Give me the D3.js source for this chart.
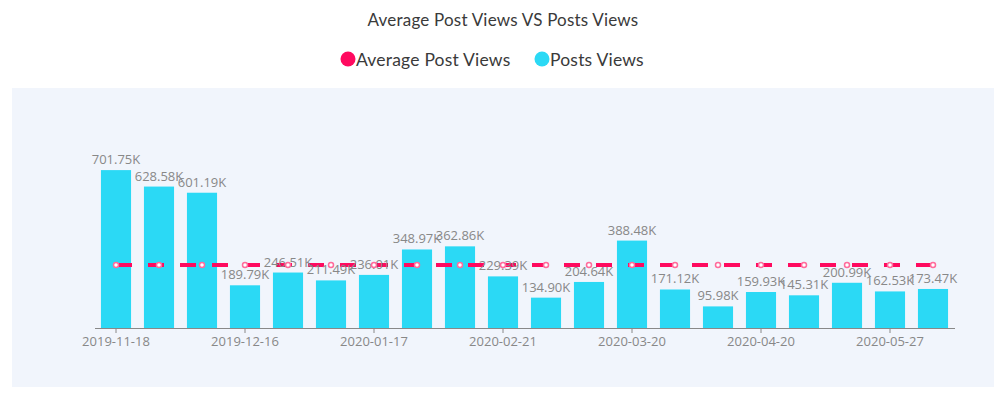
<!DOCTYPE html>
<html>
<head>
<meta charset="utf-8">
<script src="https://cdn.jsdelivr.net/npm/d3@7"></script>
<style>
  body { margin: 0; background: #fff; }
  svg { display: block; }
</style>
</head>
<body>
<svg id="chart" width="1002" height="394"></svg>
<script>
// chart data
const dates = [
  '2019-11-18', '2019-11-27', '2019-12-06', '2019-12-16', '2019-12-26',
  '2020-01-07', '2020-01-17', '2020-01-29', '2020-02-10', '2020-02-21',
  '2020-03-02', '2020-03-11', '2020-03-20', '2020-03-31', '2020-04-09',
  '2020-04-20', '2020-05-02', '2020-05-15', '2020-05-27', '2020-06-08'
];
const postsViews = [
  701.75, 628.58, 601.19, 189.79, 246.51, 211.49, 236.01, 348.97, 362.86, 229.39,
  134.90, 204.64, 388.48, 171.12, 95.98, 159.93, 145.31, 200.99, 162.53, 173.47
];
const avgPostViews = [
  279.69, 279.69, 279.69, 279.69, 279.69, 279.69, 279.69, 279.69, 279.69, 279.69,
  279.69, 279.69, 279.69, 279.69, 279.69, 279.69, 279.69, 279.69, 279.69, 279.69
];
const shownTicks = ['2019-11-18', '2019-12-16', '2020-01-17', '2020-02-21', '2020-03-20', '2020-04-20', '2020-05-27'];

const barColor = '#2bd9f5';
const lineColor = '#ff0a5f';
const labelFont = '"Open Sans", sans-serif';

const svg = d3.select('#chart');
const width = 1002;

// plot background
svg.append('rect')
  .attr('x', 12).attr('y', 88)
  .attr('width', 982).attr('height', 299)
  .attr('fill', '#f1f5fc');

// title
svg.append('text')
  .attr('x', width / 2 + 2).attr('y', 26)
  .attr('text-anchor', 'middle')
  .attr('font-family', 'Lato, sans-serif')
  .attr('font-size', 17)
  .attr('letter-spacing', 0.2)
  .attr('fill', '#3a3a3a')
  .text('Average Post Views VS Posts Views');

// legend
const legend = [
  { name: 'Average Post Views', color: lineColor, x: 348 },
  { name: 'Posts Views', color: barColor, x: 542 }
];
const lg = svg.append('g').selectAll('g').data(legend).enter().append('g')
  .attr('transform', d => `translate(${d.x},59)`);
lg.append('circle').attr('r', 7.5).attr('fill', d => d.color);
lg.append('text')
  .attr('x', 8).attr('y', 6.5)
  .attr('font-family', 'Lato, sans-serif')
  .attr('font-size', 17.5)
  .attr('letter-spacing', 0.2)
  .attr('fill', '#3a3a3a')
  .text(d => d.name);

// scales
const x = d3.scaleBand()
  .domain(dates)
  .range([94.5, 954.5])
  .paddingInner(0.3)
  .paddingOuter(0.15);

const y = d3.scaleLinear()
  .domain([0, 800])
  .range([328, 148]);

// bars
svg.selectAll('.bar')
  .data(dates)
  .enter().append('rect')
  .attr('class', 'bar')
  .attr('x', d => x(d))
  .attr('y', (d, i) => y(postsViews[i]))
  .attr('width', x.bandwidth())
  .attr('height', (d, i) => y(0) - y(postsViews[i]))
  .attr('fill', barColor);

// x axis
const xAxis = d3.axisBottom(x)
  .tickValues(shownTicks)
  .tickSize(5)
  .tickSizeOuter(0)
  .tickPadding(4);

const ax = svg.append('g')
  .attr('transform', `translate(0,${y(0)})`)
  .call(xAxis);
ax.select('.domain').attr('stroke', '#888');
ax.selectAll('.tick line').attr('stroke', '#888');
ax.selectAll('.tick text')
  .attr('fill', '#888')
  .attr('font-family', labelFont)
  .attr('font-size', 13);

// average line
const cx = d => x(d) + x.bandwidth() / 2;
const line = d3.line()
  .x((v, i) => cx(dates[i]))
  .y(v => y(v));

svg.append('path')
  .datum(avgPostViews)
  .attr('d', line)
  .attr('fill', 'none')
  .attr('stroke', lineColor)
  .attr('stroke-width', 4)
  .attr('stroke-dasharray', '16,16');

// value labels
svg.selectAll('.val')
  .data(dates)
  .enter().append('text')
  .attr('class', 'val')
  .attr('x', d => cx(d))
  .attr('y', (d, i) => y(postsViews[i]) - 6)
  .attr('text-anchor', 'middle')
  .attr('font-family', labelFont)
  .attr('font-size', 13)
  .attr('fill', '#888')
  .text((d, i) => postsViews[i].toFixed(2) + 'K');

// line markers
svg.selectAll('.dot')
  .data(avgPostViews)
  .enter().append('circle')
  .attr('class', 'dot')
  .attr('cx', (v, i) => cx(dates[i]))
  .attr('cy', v => y(v))
  .attr('r', 2.5)
  .attr('fill', '#fff')
  .attr('stroke', '#ff6b9c')
  .attr('stroke-width', 1.5);
</script>
</body>
</html>
